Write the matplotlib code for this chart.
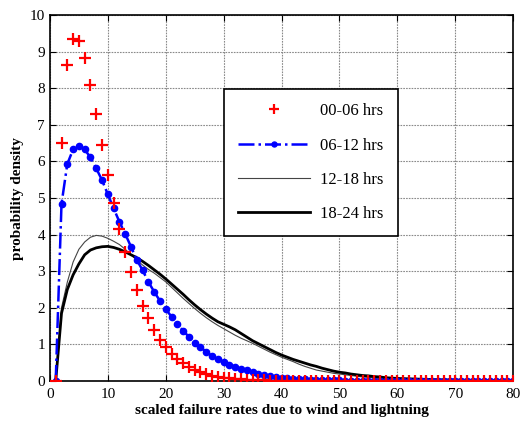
import numpy as np
import matplotlib.pyplot as plt
from matplotlib.ticker import MultipleLocator

plt.rcParams['font.family'] = ['Liberation Serif', 'DejaVu Serif']

# scaled failure rate samples, 1..80
x = np.arange(1, 81)

pdf_00_06 = [0, 6.5, 8.65, 9.35, 9.3, 8.82, 8.1, 7.3, 6.45, 5.63,
             4.87, 4.15, 3.52, 2.97, 2.48, 2.06, 1.71, 1.40, 1.13, 0.92,
             0.75, 0.60, 0.48, 0.38, 0.30, 0.24, 0.19, 0.15, 0.12, 0.09,
             0.07, 0.055, 0.045, 0.035, 0.027, 0.02, 0.015, 0.012, 0.009, 0.007,
             0.005, 0.004, 0.003, 0.002, 0.002, 0.001, 0.001, 0.001, 0, 0,
             0, 0, 0, 0, 0, 0, 0, 0, 0, 0,
             0, 0, 0, 0, 0, 0, 0, 0, 0, 0,
             0, 0, 0, 0, 0, 0, 0, 0, 0, 0]

pdf_06_12 = [0, 4.84, 5.93, 6.33, 6.42, 6.33, 6.11, 5.81, 5.49, 5.10,
             4.72, 4.35, 4.02, 3.67, 3.31, 3.03, 2.71, 2.44, 2.19, 1.96,
             1.76, 1.56, 1.37, 1.21, 1.05, 0.92, 0.80, 0.68, 0.59, 0.52,
             0.45, 0.39, 0.34, 0.29, 0.25, 0.20, 0.16, 0.13, 0.11, 0.09,
             0.075, 0.062, 0.05, 0.042, 0.035, 0.03, 0.025, 0.02, 0.017, 0.014,
             0.012, 0.01, 0.008, 0.007, 0.006, 0.005, 0.004, 0.003, 0.003, 0.002,
             0.002, 0.001, 0.001, 0.001, 0, 0, 0, 0, 0, 0,
             0, 0, 0, 0, 0, 0, 0, 0, 0, 0]

pdf_12_18 = [0, 2.0, 2.7, 3.25, 3.6, 3.8, 3.93, 3.98, 3.96, 3.9,
             3.82, 3.73, 3.6, 3.45, 3.3, 3.17, 3.05, 2.95, 2.83, 2.71,
             2.56, 2.41, 2.26, 2.12, 1.98, 1.85, 1.73, 1.62, 1.52, 1.43,
             1.34, 1.25, 1.17, 1.10, 1.03, 0.95, 0.87, 0.79, 0.72, 0.65,
             0.59, 0.53, 0.46, 0.40, 0.35, 0.30, 0.27, 0.24, 0.21, 0.19,
             0.17, 0.15, 0.13, 0.11, 0.10, 0.08, 0.07, 0.05, 0.04, 0.03,
             0.028, 0.025, 0.022, 0.02, 0.018, 0.016, 0.014, 0.012, 0.011, 0.01,
             0.009, 0.008, 0.007, 0.006, 0.006, 0.005, 0.005, 0.004, 0.004, 0.004]

pdf_18_24 = [0, 1.85, 2.5, 2.9, 3.2, 3.45, 3.58, 3.64, 3.67, 3.68,
             3.65, 3.6, 3.53, 3.45, 3.37, 3.27, 3.16, 3.04, 2.92, 2.79,
             2.65, 2.51, 2.37, 2.22, 2.08, 1.95, 1.83, 1.72, 1.62, 1.55,
             1.48, 1.40, 1.30, 1.20, 1.10, 1.02, 0.94, 0.86, 0.78, 0.71,
             0.65, 0.59, 0.54, 0.49, 0.44, 0.40, 0.35, 0.31, 0.27, 0.24,
             0.22, 0.19, 0.17, 0.15, 0.14, 0.12, 0.11, 0.09, 0.08, 0.07,
             0.065, 0.06, 0.055, 0.05, 0.045, 0.04, 0.036, 0.032, 0.029, 0.026,
             0.023, 0.021, 0.019, 0.017, 0.015, 0.014, 0.013, 0.012, 0.011, 0.01]

fig = plt.figure(figsize=(5.2, 4.21), dpi=100)
ax = fig.add_axes([0.096, 0.095, 0.891, 0.869])

ax.plot(x, pdf_12_18, color='#444444', lw=0.8, label='12-18 hrs', zorder=3)
ax.plot(x, pdf_18_24, color='black', lw=2.0, label='18-24 hrs', zorder=3)
ax.plot(x, pdf_06_12, color='blue', lw=1.8, ls='-.', marker='o', ms=4.5,
        label='06-12 hrs', zorder=4)
ax.plot(x, pdf_00_06, color='red', ls='none', marker='+', ms=9, mew=1.6,
        label='00-06 hrs', zorder=5)

ax.set_xlim(0, 80)
ax.set_ylim(0, 10)
ax.xaxis.set_major_locator(MultipleLocator(10))
ax.yaxis.set_major_locator(MultipleLocator(1))
ax.grid(True, color='#8a8a8a', ls=(0, (1.5, 1)), lw=0.8)
ax.tick_params(direction='in', top=True, right=True, labelsize=11, length=4)
ax.tick_params(axis='x', pad=5)
for s in ax.spines.values():
    s.set_linewidth(1.2)

ax.set_xlabel('scaled failure rates due to wind and lightning',
              fontsize=11, fontweight='bold', labelpad=2)
ax.set_ylabel('probability density', fontsize=11, fontweight='bold', labelpad=4)

handles, labels = ax.get_legend_handles_labels()
order = [3, 2, 0, 1]
leg = ax.legend([handles[i] for i in order], [labels[i] for i in order],
                loc='upper left', bbox_to_anchor=(0.376, 0.798),
                fontsize=12, frameon=True, fancybox=False, edgecolor='black',
                handlelength=4.3, handletextpad=0.6, labelspacing=1.1,
                borderpad=0.85, borderaxespad=0, markerscale=0.8)
leg.get_frame().set_linewidth(1.2)
leg.get_frame().set_alpha(1)

fig.savefig('out.png', dpi=100)
